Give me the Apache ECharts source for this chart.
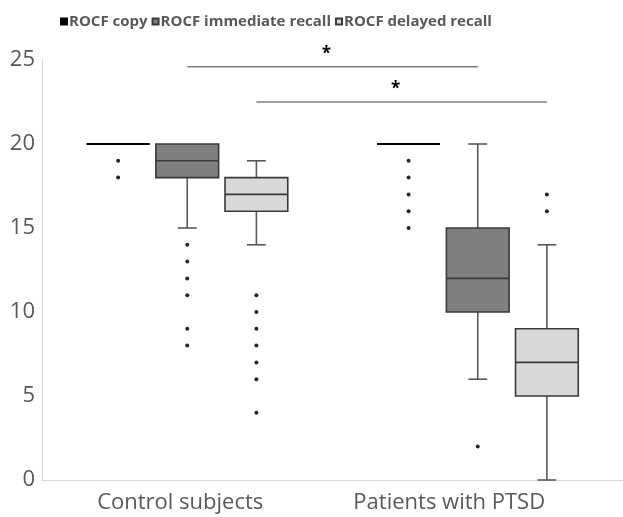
<!DOCTYPE html>
<html>
<head>
<meta charset="utf-8">
<script src="https://cdn.jsdelivr.net/npm/echarts@6/dist/echarts.min.js"></script>
<style>
  html, body { margin: 0; padding: 0; background: #fff; }
  #main { width: 623px; height: 517px; }
</style>
</head>
<body>
<div id="main"></div>
<script>
var categories = ["Control subjects", "Patients with PTSD"];
var seriesNames = ["ROCF copy", "ROCF immediate recall", "ROCF delayed recall"];

// [min, Q1, median, Q3, max] per category
var copyBox = [[20, 20, 20, 20, 20], [20, 20, 20, 20, 20]];
var immediateBox = [[15, 18, 19, 20, 20], [6, 10, 12, 15, 20]];
var delayedBox = [[14, 16, 17, 18, 19], [0, 5, 7, 9, 14]];

// [category index, value]
var copyOutliers = [[0, 19], [0, 18], [1, 19], [1, 18], [1, 17], [1, 16], [1, 15]];
var immediateOutliers = [[0, 14], [0, 13], [0, 12], [0, 11], [0, 9], [0, 8], [1, 2]];
var delayedOutliers = [[0, 11], [0, 10], [0, 9], [0, 8], [0, 7], [0, 6], [0, 4], [1, 17], [1, 16]];

// [from category, to category, series index, y level]
var significance = [[0, 1, 1, 24.6], [0, 1, 2, 22.5]];

var FONT = "Open Sans";
var SHIFT = 0.238; // series offset as share of band
var BOXW = 0.216;  // box width as share of band

function boxSeries(name, data, k, fill, stroke) {
  return {
    name: name,
    type: "custom",
    itemStyle: { color: fill, borderColor: stroke, borderWidth: 1 },
    data: data.map(function (d, i) { return [i].concat(d); }),
    encode: { x: 0, y: [1, 2, 3, 4, 5] },
    renderItem: function (params, api) {
      var band = api.size([1, 0])[0];
      var cx = api.coord([api.value(0), 0])[0] + (k - 1) * band * SHIFT;
      var w = band * BOXW;
      var cap = w * 0.3;
      var y = [1, 2, 3, 4, 5].map(function (j) { return api.coord([0, api.value(j)])[1]; });
      var lineStyle = { stroke: "#595959", lineWidth: 1.6 };
      var kids = [];
      if (y[0] !== y[1]) {
        kids.push({ type: "line", shape: { x1: cx, y1: y[1], x2: cx, y2: y[0] }, style: lineStyle });
        kids.push({ type: "line", shape: { x1: cx - cap / 2, y1: y[0], x2: cx + cap / 2, y2: y[0] }, style: lineStyle });
      }
      if (y[4] !== y[3]) {
        kids.push({ type: "line", shape: { x1: cx, y1: y[3], x2: cx, y2: y[4] }, style: lineStyle });
        kids.push({ type: "line", shape: { x1: cx - cap / 2, y1: y[4], x2: cx + cap / 2, y2: y[4] }, style: lineStyle });
      }
      kids.push({
        type: "rect",
        shape: { x: cx - w / 2, y: y[3], width: w, height: y[1] - y[3] },
        style: { fill: fill, stroke: stroke, lineWidth: k === 0 ? 2.2 : 1.6 }
      });
      kids.push({ type: "line", shape: { x1: cx - w / 2, y1: y[2], x2: cx + w / 2, y2: y[2] }, style: { stroke: stroke, lineWidth: k === 0 ? 2.2 : 1.6 } });
      return { type: "group", children: kids };
    }
  };
}

function outlierSeries(name, data, k) {
  return {
    name: name,
    type: "custom",
    data: data,
    encode: { x: 0, y: 1 },
    renderItem: function (params, api) {
      var band = api.size([1, 0])[0];
      var p = api.coord([api.value(0), api.value(1)]);
      return {
        type: "circle",
        shape: { cx: p[0] + (k - 1) * band * SHIFT, cy: p[1], r: 2 },
        style: { fill: "#262626" }
      };
    }
  };
}

var bracketSeries = {
  name: "significance",
  type: "custom",
  data: significance,
  encode: { x: [0, 1], y: 3 },
  renderItem: function (params, api) {
    var band = api.size([1, 0])[0];
    var off = (api.value(2) - 1) * band * SHIFT;
    var a = api.coord([api.value(0), api.value(3)]);
    var b = api.coord([api.value(1), api.value(3)]);
    return {
      type: "group",
      children: [
        { type: "line", shape: { x1: a[0] + off, y1: a[1], x2: b[0] + off, y2: b[1] }, style: { stroke: "#7f7f7f", lineWidth: 1.5 } },
        {
          type: "text",
          style: {
            text: "*", x: (a[0] + b[0]) / 2 + off - 6, y: a[1] - 4,
            fill: "#000", font: "bold 17px " + FONT, align: "center", verticalAlign: "bottom"
          }
        }
      ]
    };
  }
};

var chart = echarts.init(document.getElementById("main"));
chart.setOption({
  backgroundColor: "#fff",
  animation: false,
  textStyle: { fontFamily: FONT },
  legend: {
    data: seriesNames,
    top: 9,
    left: 55,
    icon: "rect",
    itemWidth: 6,
    itemHeight: 6,
    itemGap: 4,
    textStyle: { color: "#595959", fontSize: 15, fontWeight: "bold", fontFamily: FONT, padding: [0, 0, 0, -3] }
  },
  grid: { left: 42, right: 0, top: 60, bottom: 37 },
  xAxis: {
    type: "category",
    data: categories,
    axisLine: { lineStyle: { color: "#d9d9d9", width: 1 } },
    axisTick: { show: false },
    axisLabel: {
      interval: 0,
      hideOverlap: false,
      color: "#595959", fontSize: 22, margin: 12,
      formatter: function (v, i) { return "{c" + i + "|" + v + "}"; },
      rich: {
        c0: { fontSize: 22, color: "#595959", padding: [0, 14, 0, 0] },
        c1: { fontSize: 22, color: "#595959", padding: [0, 57, 0, 0] }
      }
    }
  },
  yAxis: {
    type: "value",
    min: 0,
    max: 25,
    interval: 5,
    axisLine: { show: true, lineStyle: { color: "#d9d9d9", width: 1 } },
    axisTick: { show: false },
    splitLine: { show: false },
    axisLabel: { color: "#595959", fontSize: 22, margin: 7 }
  },
  series: [
    boxSeries(seriesNames[0], copyBox, 0, "#000000", "#000000"),
    boxSeries(seriesNames[1], immediateBox, 1, "#7f7f7f", "#3a3a3a"),
    boxSeries(seriesNames[2], delayedBox, 2, "#d9d9d9", "#3a3a3a"),
    outlierSeries(seriesNames[0], copyOutliers, 0),
    outlierSeries(seriesNames[1], immediateOutliers, 1),
    outlierSeries(seriesNames[2], delayedOutliers, 2),
    bracketSeries
  ]
});
</script>
</body>
</html>
